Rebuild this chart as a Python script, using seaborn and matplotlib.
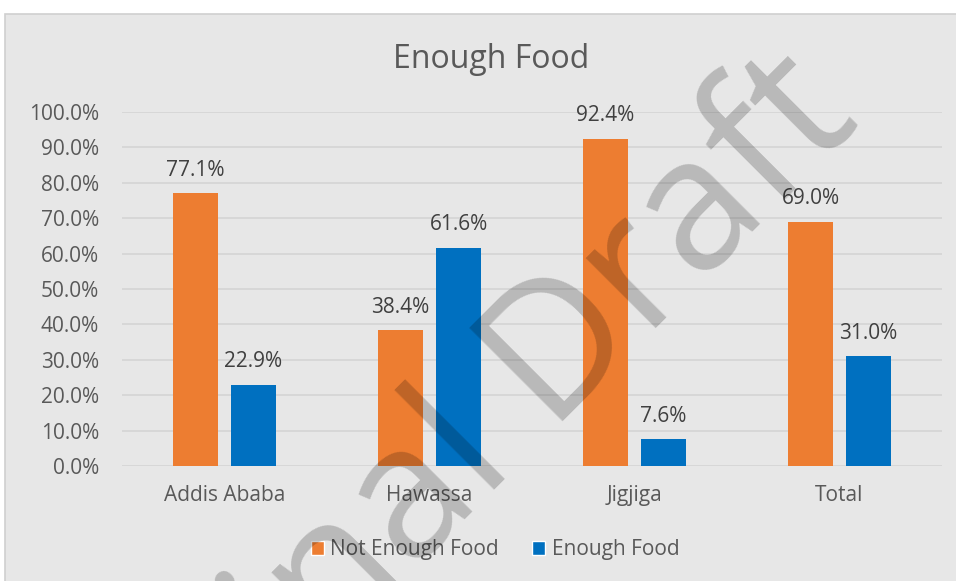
import matplotlib
matplotlib.use("Agg")
import matplotlib.pyplot as plt
from matplotlib.patches import Rectangle
import seaborn as sns
import pandas as pd

# Share of households by food sufficiency, per site
sites = ["Addis Ababa", "Hawassa", "Jigjiga", "Total"]
not_enough = [77.1, 38.4, 92.4, 69.0]
enough = [22.9, 61.6, 7.6, 31.0]
series_names = ["Not Enough Food", "Enough Food"]
y_ticks = [0, 10, 20, 30, 40, 50, 60, 70, 80, 90, 100]

df = pd.DataFrame({
    "site": sites * 2,
    "status": [series_names[0]] * len(sites) + [series_names[1]] * len(sites),
    "pct": not_enough + enough,
})

sns.set_style("white")
plt.rcParams["font.family"] = ["Open Sans", "DejaVu Sans"]

BG = "#E7E7E7"
GRID = "#D4D4D4"
TXT = "#595959"
FS = 15
palette = {"Not Enough Food": "#ED7D31", "Enough Food": "#0070C0"}

fig = plt.figure(figsize=(9.56, 5.81), dpi=100, facecolor="white")
# chart panel
fig.patches.append(Rectangle((5 / 956, -0.01), 1, 1.01 - 14 / 581, transform=fig.transFigure,
                             facecolor=BG, edgecolor="#D0D0D0", linewidth=1.2, zorder=-5))

ax = fig.add_axes([122 / 956, 115 / 581, 820 / 956, 354 / 581])
ax.patch.set_alpha(0)

sns.barplot(data=df, x="site", y="pct", hue="status", palette=palette,
            order=sites, hue_order=series_names, width=0.566, gap=0.21,
            saturation=1, linewidth=0, ax=ax, legend=False, zorder=3)

ax.set_ylim(0, 100)
ax.set_xlim(-0.5, len(sites) - 0.5)
ax.set_yticks(y_ticks)
ax.set_yticklabels([f"{v:.1f}%" for v in y_ticks])
ax.yaxis.grid(True, color=GRID, linewidth=1.2, zorder=0)
ax.set_axisbelow(True)
for s in ax.spines.values():
    s.set_visible(False)
ax.tick_params(axis="both", length=0, labelsize=FS, colors=TXT)
ax.tick_params(axis="y", pad=16.5)
ax.tick_params(axis="x", pad=14)
ax.set_xlabel("")
ax.set_ylabel("")

for container in ax.containers:
    ax.bar_label(container, labels=[f"{v:.1f}%" for v in container.datavalues],
                 padding=9, fontsize=FS, color="#404040")

fig.text(491 / 956, 1 - 60 / 581, "Enough Food", ha="center", va="center",
         fontsize=23, color=TXT)

# legend
handles = [Rectangle((0, 0), 1, 1, facecolor=palette[n]) for n in series_names]
fig.legend(handles, series_names, loc="center", bbox_to_anchor=(495 / 956, 1 - 550 / 581),
           ncol=2, frameon=False, fontsize=FS, handlelength=0.63, handleheight=0.63,
           handletextpad=0.3, columnspacing=1.6, labelcolor=TXT)

# diagonal watermark
fig.text(512 / 956, 1 - 404 / 581, "Final Draft", rotation=45, rotation_mode="anchor",
         ha="center", va="center", fontsize=133, fontfamily="Open Sans",
         color="black", alpha=0.2, zorder=10)

fig.savefig("out.png", dpi=100, facecolor="white")
